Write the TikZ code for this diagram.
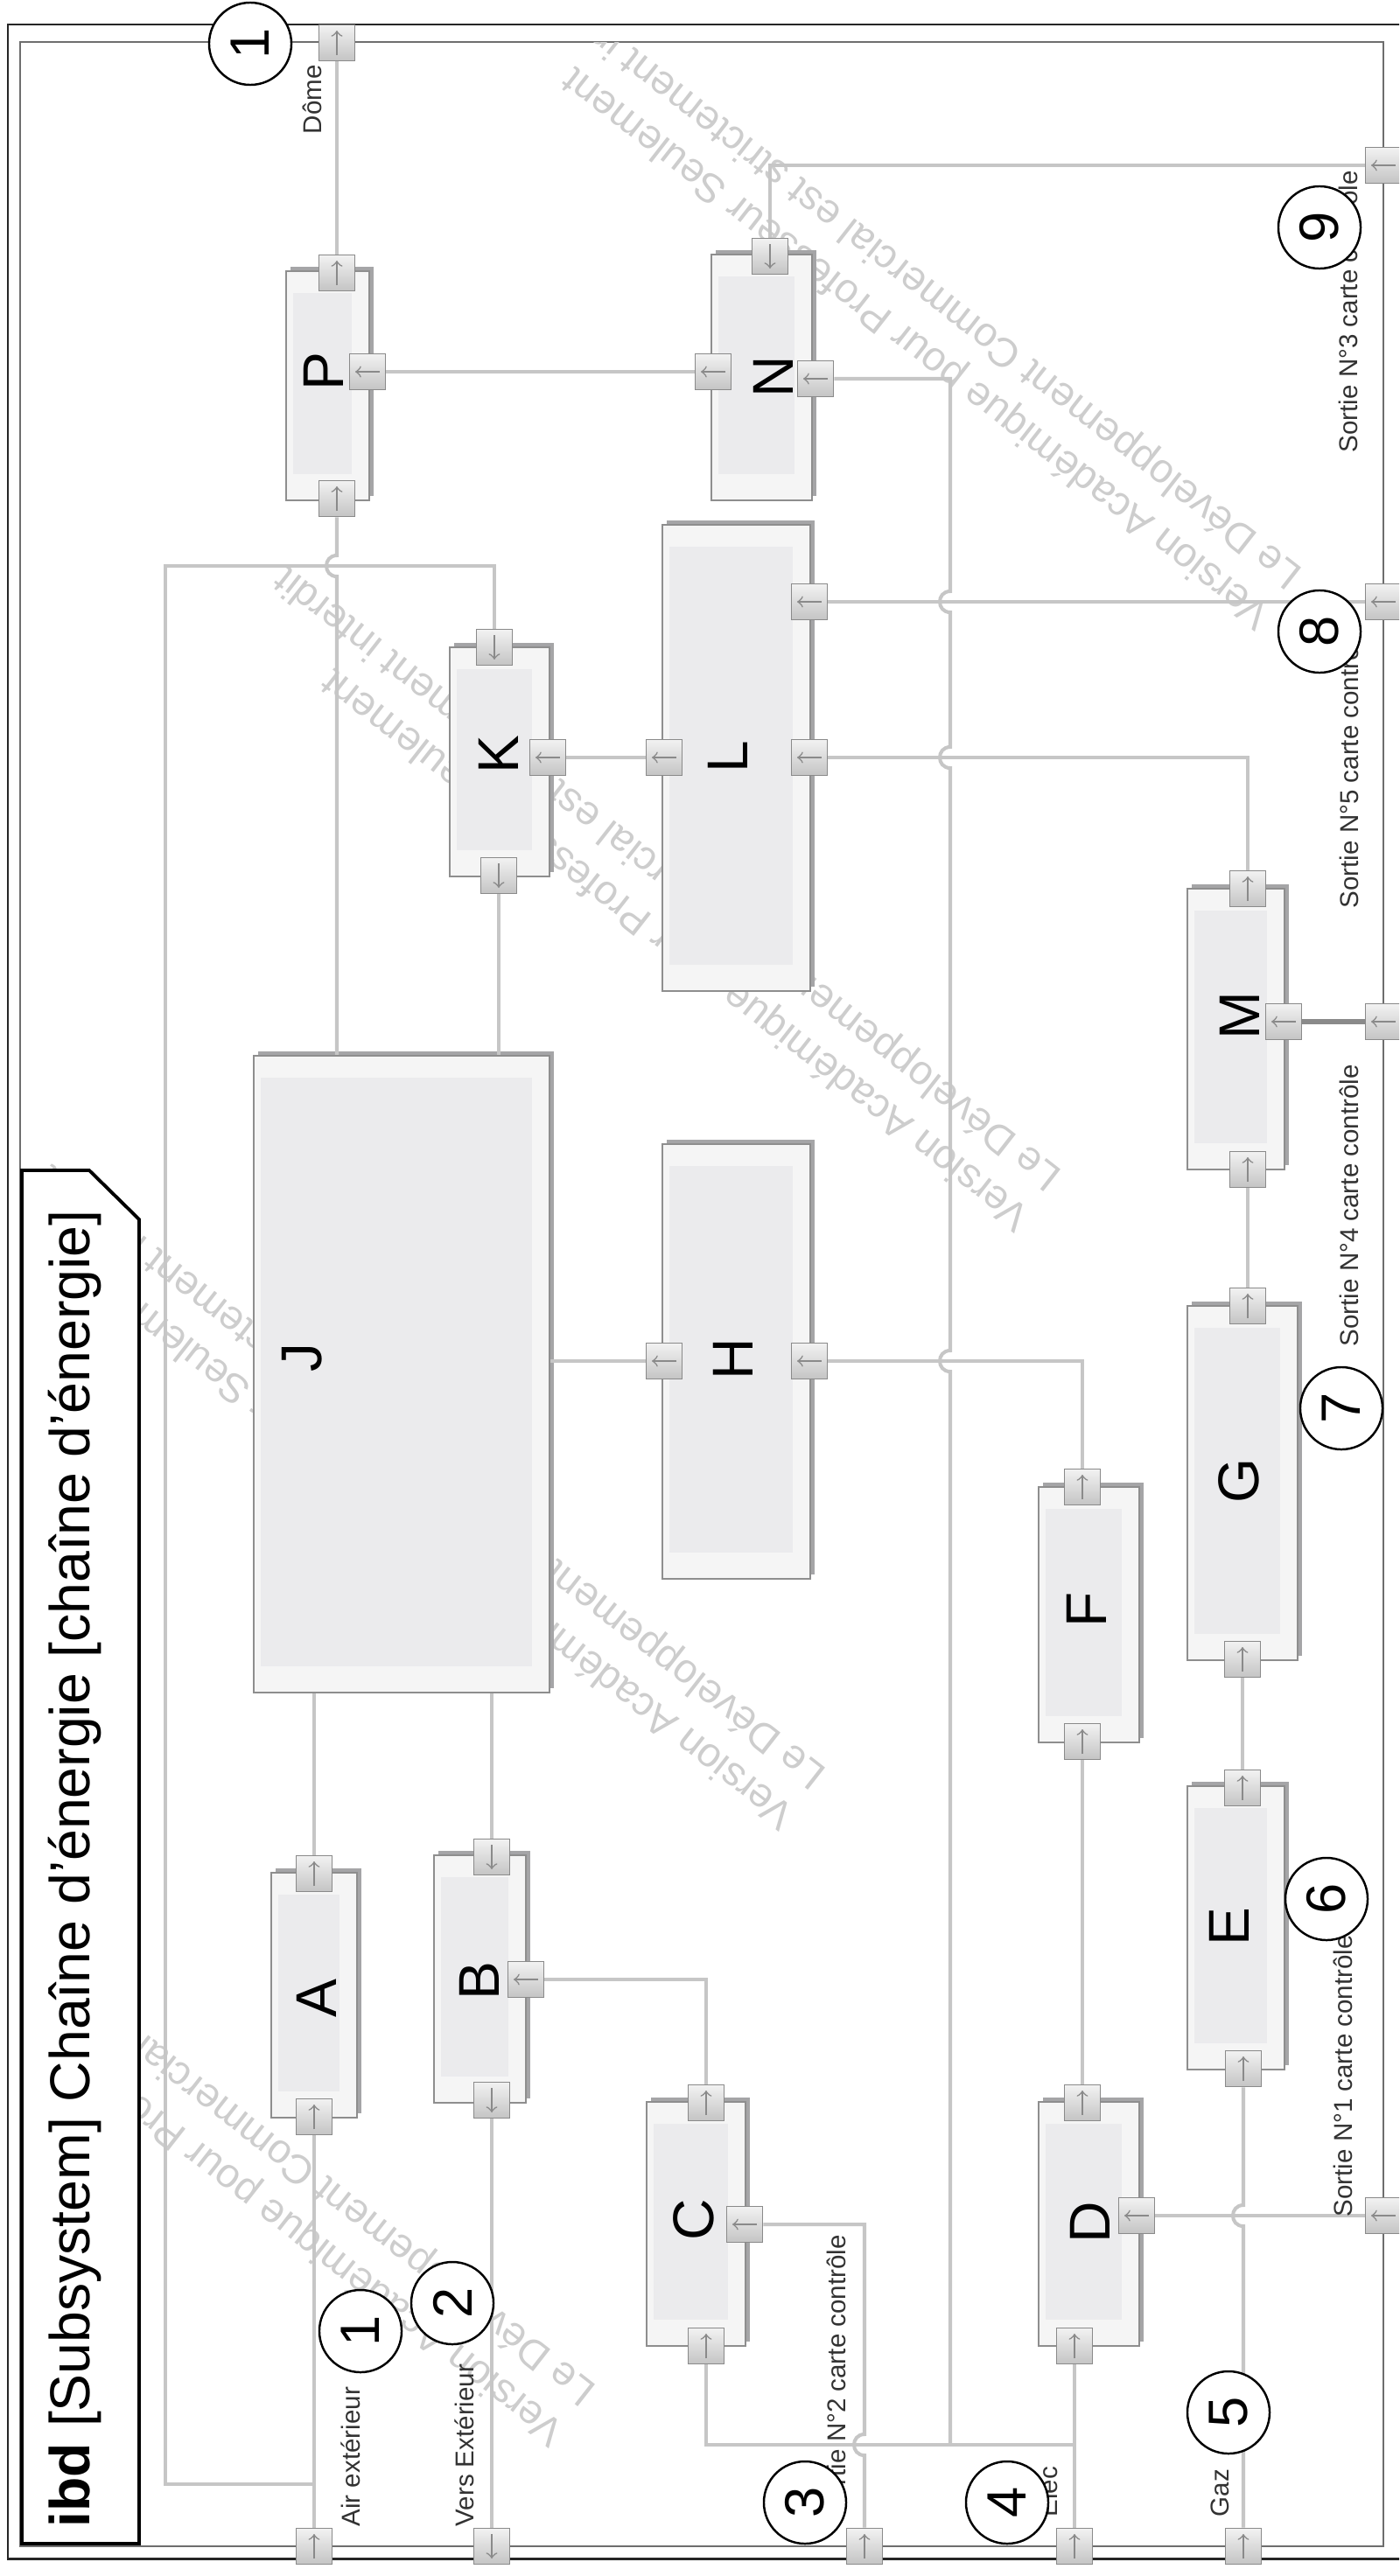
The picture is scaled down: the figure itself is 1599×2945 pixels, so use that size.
\documentclass[tikz,border=0pt]{standalone}
\usepackage{fontspec}
\setmainfont{Liberation Sans}
\usetikzlibrary{shapes,arrows,positioning,calc,fit,shadows}
\definecolor{WireGray}{RGB}{198,198,198}
\definecolor{BoxLine}{RGB}{142,142,142}
\definecolor{BoxFill}{RGB}{245,245,245}
\definecolor{BoxPanel}{RGB}{235,235,237}
\definecolor{BoxShadow}{RGB}{165,165,167}
\definecolor{PortLine}{RGB}{138,138,138}
\definecolor{PortLight}{RGB}{242,242,242}
\definecolor{PortDark}{RGB}{196,196,196}
\definecolor{FrameGray}{RGB}{110,110,110}
\definecolor{MarkGray}{RGB}{205,205,205}
\definecolor{LabelGray}{RGB}{50,50,50}

\begin{document}
\begin{tikzpicture}[
        x=0.01cm, y=-0.01cm,
        wire/.style={draw=WireGray, line width=1.15pt},
        block/.style={draw=BoxLine, line width=0.6pt, fill=BoxFill, inner sep=0pt,
                      general shadow={fill=BoxShadow, shadow xshift=1.5pt, shadow yshift=1.5pt},
                      path picture={\fill[BoxPanel] ([shift={(8,25)}]path picture bounding box.north west)
                                    rectangle ([shift={(-20,-30)}]path picture bounding box.south east);}},
        port/.style={rectangle, draw=PortLine, line width=0.5pt, minimum size=0.41cm, inner sep=0pt,
                     top color=PortLight, bottom color=PortDark},
        portarrow/.style={draw=PortLine, line width=0.45pt, -to},
        letter/.style={rotate=90, inner sep=0pt, font=\fontsize{18.7}{20}\selectfont},
        pinlabel/.style={rotate=90, anchor=base west, inner sep=0pt, text=LabelGray,
                         font=\fontsize{8.4}{10}\selectfont},
        numcirc/.style={circle, draw=black, line width=0.7pt, fill=white, minimum size=0.94cm,
                        inner sep=0pt, rotate=90, font=\fontsize{18}{20}\selectfont},
        wmark/.style={rotate=142, anchor=base west, inner sep=0pt, text=MarkGray,
                      font=\fontsize{13.3}{15}\selectfont}
    ]
    \useasboundingbox (0,0) rectangle (1599,2945);
    \clip (0,0) rectangle (1599,2945);
    % frames
    \draw[line width=0.85pt, draw=black!85] (9,28) rectangle (1660,2925);
    \draw[line width=0.7pt, draw=FrameGray] (23,48) rectangle (1581,2911);
    % watermark
    \begin{scope}
        \clip (23,48) rectangle (1581,2911);
        \foreach \x/\y in {1491/652, 1216/1340, 947/2024, 684/2729} {
            \node[wmark] at (\x,\y) {Le Développement Commercial est strictement interdit};
            \node[wmark] at (\x-36,\y+46) {Version Académique pour Professeur Seulement};
        }
    \end{scope}
    % parts
    \foreach \n/\xa/\ya/\xb/\yb in {P/327/310/422/572, N/813/291/928/572, K/514/740/628/1002,
            L/757/600/926/1133, J/290/1207/628/1935, H/757/1308/926/1805, M/1357/1016/1468/1337,
            G/1357/1493/1483/1898, F/1187/1700/1302/1992, E/1357/2042/1468/2366,
            A/310/2141/408/2421, B/496/2121/601/2404, C/739/2403/852/2682, D/1187/2403/1302/2682}
        \node[block, fit={(\xa,\ya) (\xb,\yb)}] (\n) {};
    % ports (270 = up, 90 = down, 180 = left)
    \foreach \n/\x/\y/\d in {Dome/385/49/270, Pt/385/312/270, Pb/385/570/270, Pr/420/425/180,
            Nt/880/293/90, Nl/815/425/180, Nr/932/433/180, Rnine/1581/189/180,
            Kt/565/740/90, Kb/570/1001/90, Kr/626/866/180,
            Ll/759/866/180, Lt/925/688/180, Lm/925/866/180, Reight/1581/688/180,
            Mt/1426/1016/270, Mb/1426/1337/270, Mr/1467/1168/180, Rfour/1581/1168/180,
            Hl/759/1556/180, Hr/925/1556/180, Ft/1237/1700/270, Fb/1237/1991/270,
            Gt/1426/1493/270, Gb/1420/1897/270, Et/1420/2044/270, Eb/1421/2365/270,
            Dt/1237/2404/270, Db/1228/2682/270, Dr/1299/2533/180, Rone/1581/2533/180,
            Ct/807/2404/270, Cb/807/2682/270, Cr/851/2543/180,
            At/359/2142/270, Ab/359/2420/270, Bt/562/2123/90, Bb/562/2401/90, Br/601/2263/180,
            Air/359/2911/270, Vers/562/2911/90, Stwo/988/2911/270, Elec/1228/2911/270, Gaz/1421/2911/270} {
        \node[port] (\n) at (\x,\y) {};
        \draw[portarrow] ([shift={(\d+180:14)}]\n.center) -- ([shift={(\d:14)}]\n.center);
    }
    \coordinate (busN) at (1086,2795);
    \coordinate (busD) at (1228,2795);
    \coordinate (airTap) at (359,2840);
    % connectors
    \draw[wire] (Dome) -- (Pt);
    \draw[wire] (Pr) -- (Nl);
    \draw[wire] (Nt) |- (Rnine);
    \draw[wire] (Nr) -| (1086,676) .. controls (1070,676) and (1070,700) .. (1086,700)
        -- (1086,854) .. controls (1070,854) and (1070,878) .. (1086,878)
        -- (1086,1544) .. controls (1070,1544) and (1070,1568) .. (1086,1568) -- (busN);
    \draw[wire] (Pb) -- (385,635) .. controls (369,635) and (369,659) .. (385,659) -- (Pb |- J.north);
    \draw[wire] (Kt) |- (189,647) -- (189,2840) -- (airTap);
    \draw[wire] (Kb) -- (Kb |- J.north);
    \draw[wire] (Kr) -- (Ll);
    \draw[wire] (Lt) -- (Reight);
    \draw[wire] (Lm) -| (Mt);
    \draw[wire, draw=PortLine, line width=1.8pt] (Mr) -- (Rfour);
    \draw[wire] (Mb) -- (Gt);
    \draw[wire] (Gb) -- (Et);
    \draw[wire] (Eb) -- (1421,2521) .. controls (1405,2521) and (1405,2545) .. (1421,2545) -- (Gaz);
    \draw[wire] (J.east |- Hl) -- (Hl);
    \draw[wire] (Hr) -| (Ft);
    \draw[wire] (Fb) -- (Dt);
    \draw[wire] (Dr) -- (Rone);
    \draw[wire] (Db) -- (Elec);
    \draw[wire] (Cb) |- (busD);
    \draw[wire] (Cr) -| (988,2783) .. controls (972,2783) and (972,2807) .. (988,2807) -- (Stwo);
    \draw[wire] (Ct) |- (Br);
    \draw[wire] (J.south -| At) -- (At);
    \draw[wire] (J.south -| Bt) -- (Bt);
    \draw[wire] (Ab) -- (Air);
    \draw[wire] (Bb) -- (Vers);
    % names of parts
    \foreach \n/\x/\y in {P/370/425, N/884/431, K/570/863, L/832/865, J/345/1552, H/838/1554,
            M/1417/1161, G/1416/1693, F/1242/1840, E/1405/2203, A/362/2285, B/548/2265,
            C/793/2538, D/1246/2541}
        \node[letter] at (\x,\y) {\n};
    % flow labels
    \node[pinlabel] (lDome) at (367,154) {Dôme};
    \node[pinlabel] (lSnine) at (1551,518) {Sortie N°3 carte contrôle};
    \node[pinlabel] (lSeight) at (1552,1039) {Sortie N°5 carte contrôle};
    \node[pinlabel] (lSseven) at (1552,1540) {Sortie N°4 carte contrôle};
    \node[pinlabel] (lSsix) at (1545,2535) {Sortie N°1 carte contrôle};
    \node[pinlabel] (lStwo) at (966,2878) {Sortie N°2 carte contrôle};
    \node[pinlabel] (lElec) at (1208,2878) {Elec};
    \node[pinlabel] (lGaz) at (1404,2878) {Gaz};
    \node[pinlabel] (lAir) at (411,2889) {Air extérieur};
    \node[pinlabel] (lVers) at (541,2889) {Vers Extérieur};
    % numbered marks
    \foreach \x/\y/\lbl [count=\i] in {286/50/1, 1508/260/9, 1508/722/8, 1533/1610/7, 1516/2171/6,
            1404/2758/5, 1151/2861/4, 920/2861/3, 517/2633/2, 412/2665/1}
        \node[numcirc] (mark\i) at (\x,\y) {\lbl};
    % diagram header
    \draw[line width=1.1pt, fill=white] (25,1338) -- (102,1338) -- (159,1394) -- (159,2908) -- (25,2908) -- cycle;
    \node[rotate=90, anchor=base west, inner sep=0pt, font=\fontsize{18.3}{20}\selectfont] (title)
        at (102,2890) {\textbf{ibd} [Subsystem] Chaîne d’énergie [chaîne d’énergie]};
\end{tikzpicture}
\end{document}
